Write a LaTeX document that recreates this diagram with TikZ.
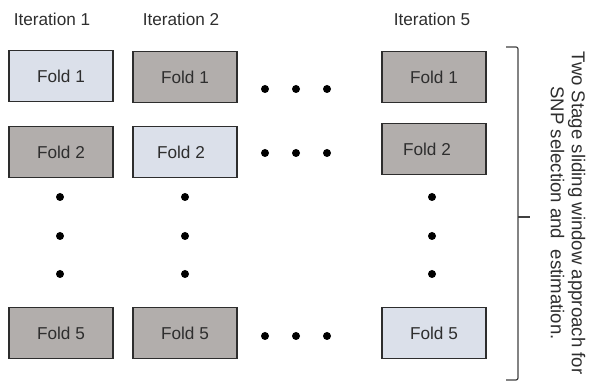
\documentclass[tikz,border=0pt]{standalone}
\usepackage{fontspec}
\setmainfont{Liberation Sans}
\usepackage{tikz}
\usetikzlibrary{calc}

\definecolor{foldlight}{RGB}{219,224,234}
\definecolor{folddark}{RGB}{178,174,172}
\definecolor{foldline}{RGB}{45,45,45}

\tikzset{
  fold/.style={draw=foldline,line width=1.3pt,minimum width=104pt,minimum height=51pt,inner sep=0pt,text=black!82},
  testfold/.style={fold,fill=foldlight},
  trainfold/.style={fold,fill=folddark},
  iter/.style={inner sep=0pt,text=black!82},
  gap/.style={circle,fill=black,inner sep=0pt,minimum size=8pt}
}

\begin{document}
\begin{tikzpicture}[x=1pt,y=-1pt,font=\fontsize{17.2}{20}\selectfont]
\useasboundingbox (0,0) rectangle (590,382);
% headers
\node[iter] (it1) at (52,19) {Iteration 1};
\node[iter] (it2) at (181,19) {Iteration 2};
\node[iter] (it5) at (432,19) {Iteration 5};
% iteration 1
\node[testfold] (a1) at (61,76) {Fold 1};
\node[trainfold] (a2) at (61,152) {Fold 2};
\node[trainfold] (a5) at (61,333) {Fold 5};
% iteration 2
\node[trainfold] (b1) at (185,77) {Fold 1};
\node[testfold] (b2) at (185,152) {\hspace*{-8pt}Fold 2};
\node[trainfold] (b5) at (185,333) {Fold 5};
% iteration 5
\node[trainfold] (c1) at (434,77) {Fold 1};
\node[trainfold] (c2) at (434,149) {\hspace*{-14pt}Fold 2};
\node[testfold] (c5) at (434,333) {Fold 5};
% skipped iterations
\foreach \y/\r in {89/1,153/2,336/5}
  \foreach \x/\k in {265/1,296/2,327/3}
    \node[gap] (h\r\k) at (\x,\y) {};
% skipped folds
\foreach \x/\c in {60/a,185/b,432/c}
  \foreach \y/\k in {197/1,236/2,274/3}
    \node[gap] (v\c\k) at (\x,\y) {};
% bracket
\draw[black!75,line width=1.2pt,rounded corners=2pt]
  (506,47) -- (518,47) -- (518,380) -- (506,380);
\draw[black!75,line width=1.2pt] (518,217) -- (530,217);
\node[rotate=-90,align=center,inner sep=0pt,text=black!82,font=\fontsize{18.6}{21}\selectfont] (note) at (568,213)
  {Two Stage sliding window approach for\\SNP selection and\ \ estimation.};
\end{tikzpicture}
\end{document}
